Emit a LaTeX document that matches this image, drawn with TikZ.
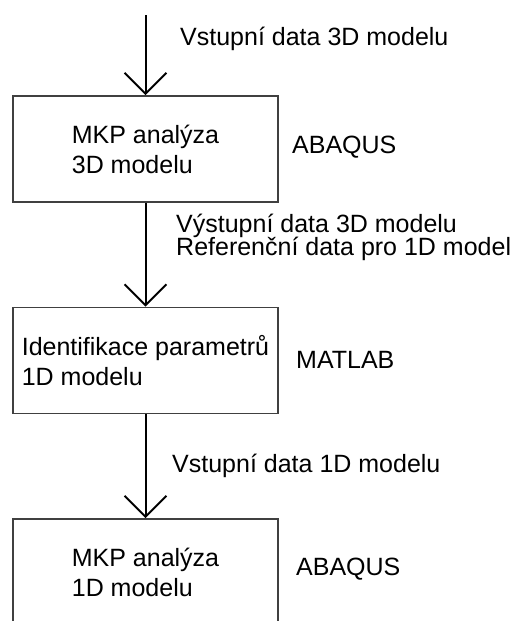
\documentclass[tikz,border=0pt]{standalone}
\usepackage{fontspec}
\setmainfont{Liberation Sans}
\usetikzlibrary{arrows.meta}
\begin{document}
\begin{tikzpicture}[x=1pt,y=-1pt,
  box/.style={draw=black!75, line width=1.6pt, minimum width=265pt, minimum height=106pt,
    inner sep=0pt, align=left, font=\fontsize{25}{30}\selectfont},
  lbl/.style={anchor=base west, inner sep=0pt, font=\fontsize{25}{30}\selectfont},
  arr/.style={line width=2pt, -{Straight Barb[length=21pt,width=42pt]}}]
\useasboundingbox (0,0) rectangle (515,621);
\clip (0,0) rectangle (515,621);
\coordinate (start) at (145.5,15);
\node[box] (b1) at (145.5,149) {MKP analýza\\3D modelu};
\node[box] (b2) at (145.5,360.5) {Identifikace parametrů\\1D modelu};
\node[box] (b3) at (145.5,572) {MKP analýza\\1D modelu};
\draw[arr] (start) -- (b1.north);
\draw[arr] (b1.south) -- (b2.north);
\draw[arr] (b2.south) -- (b3.north);
\node[lbl] (l1) at (180,45) {Vstupní data 3D modelu};
\node[lbl] (l2) at (176,232) {Výstupní data 3D modelu};
\node[lbl] (l3) at (176,255) {Referenční data pro 1D model};
\node[lbl] (l4) at (172,472) {Vstupní data 1D modelu};
\node[lbl] (t1) at (292,153) {ABAQUS};
\node[lbl] (t2) at (296,368) {MATLAB};
\node[lbl] (t3) at (296,575) {ABAQUS};
\end{tikzpicture}
\end{document}
